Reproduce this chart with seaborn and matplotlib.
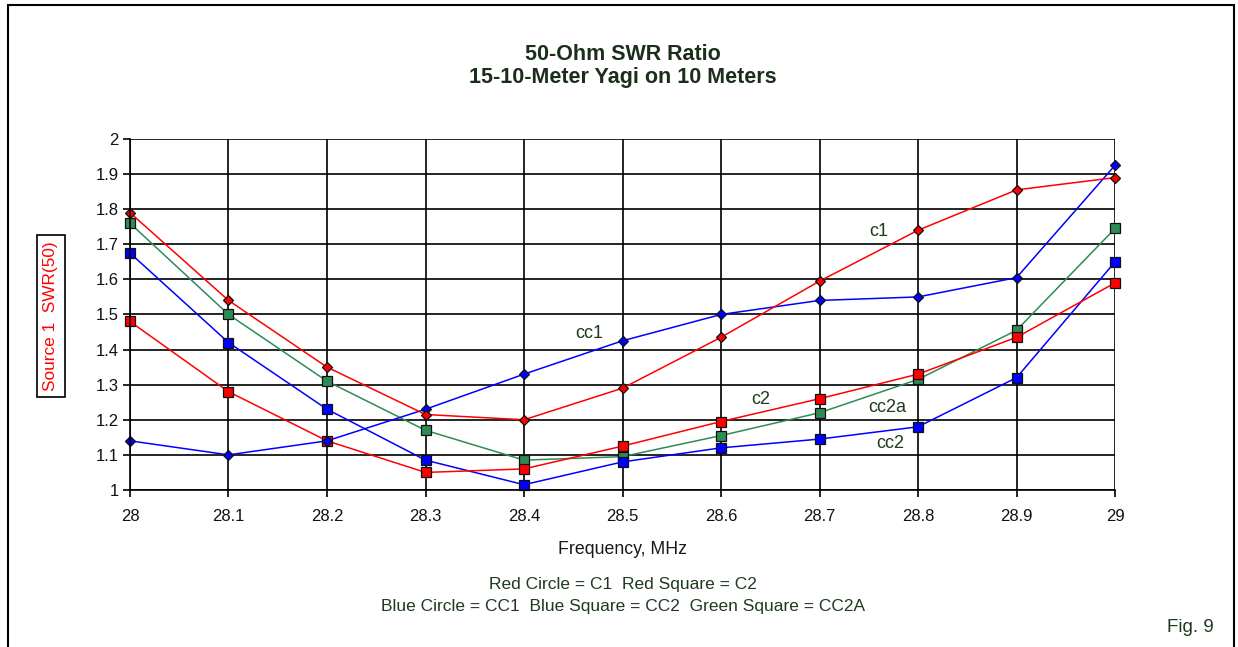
import matplotlib
matplotlib.use('Agg')
import matplotlib.pyplot as plt
import seaborn as sns
import pandas as pd
from matplotlib.patches import Rectangle

# data
freq = [28.0, 28.1, 28.2, 28.3, 28.4, 28.5, 28.6, 28.7, 28.8, 28.9, 29.0]
c1 = [1.79, 1.54, 1.35, 1.215, 1.20, 1.29, 1.435, 1.595, 1.74, 1.855, 1.89]
cc1 = [1.14, 1.10, 1.14, 1.23, 1.33, 1.425, 1.50, 1.54, 1.55, 1.605, 1.925]
c2 = [1.48, 1.28, 1.14, 1.05, 1.06, 1.125, 1.195, 1.26, 1.33, 1.435, 1.59]
cc2 = [1.675, 1.42, 1.23, 1.085, 1.015, 1.08, 1.12, 1.145, 1.18, 1.32, 1.65]
cc2a = [1.76, 1.50, 1.31, 1.17, 1.085, 1.095, 1.155, 1.22, 1.315, 1.455, 1.745]

x_ticks = [28, 28.1, 28.2, 28.3, 28.4, 28.5, 28.6, 28.7, 28.8, 28.9, 29]
y_ticks = [1, 1.1, 1.2, 1.3, 1.4, 1.5, 1.6, 1.7, 1.8, 1.9, 2]

sns.set_style('white')
plt.rcParams['font.family'] = ['Liberation Sans', 'DejaVu Sans']

fig = plt.figure(figsize=(12.38, 6.47), dpi=100)
ax = fig.add_axes([0.105, 0.2427, 0.7957, 0.5425])

txt_col = '#1f3a1f'
green = '#2e8b57'

# series: (values, colour, marker, marker size)
series = [
    (cc2a, green, 's', 7),
    (cc2, '#0000ff', 's', 7),
    (c2, '#ff0000', 's', 7),
    (cc1, '#0000ff', 'D', 5.5),
    (c1, '#ff0000', 'D', 5.5),
]
for vals, col, mk, ms in series:
    df = pd.DataFrame({'freq': freq, 'swr': vals})
    sns.lineplot(data=df, x='freq', y='swr', ax=ax, color=col, lw=1.1,
                 marker=mk, markersize=ms, markerfacecolor=col,
                 markeredgecolor='#101010', markeredgewidth=0.9, clip_on=False)

ax.set_xlim(28, 29)
ax.set_ylim(1, 2)
ax.set_xticks(x_ticks)
ax.set_xticklabels([f'{t:g}' for t in x_ticks])
ax.set_yticks(y_ticks)
ax.set_yticklabels([f'{t:g}' for t in y_ticks])
ax.grid(True, color='black', lw=1.2)
ax.set_axisbelow(True)
for s in ax.spines.values():
    s.set_visible(False)
for side in ['left', 'bottom']:
    ax.spines[side].set_visible(True)
    ax.spines[side].set_color('black')
    ax.spines[side].set_linewidth(1.2)
ax.tick_params(axis='both', direction='out', length=5, width=1.2, color='black',
               labelsize=12, labelcolor='#111111', left=True, bottom=True)
ax.tick_params(axis='x', pad=9)
ax.tick_params(axis='y', pad=3)
ax.set_xlabel('')
ax.set_ylabel('')

# curve labels
lab = dict(fontsize=13, color=txt_col, ha='center', va='center')
ax.text(28.76, 1.735, 'c1', **lab)
ax.text(28.466, 1.447, 'cc1', **lab)
ax.text(28.64, 1.258, 'c2', **lab)
ax.text(28.769, 1.236, 'cc2a', **lab)
ax.text(28.772, 1.131, 'cc2', **lab)

# title and other text
fig.text(0.503, 1 - 55 / 647, '50-Ohm SWR Ratio', ha='center', va='center',
         fontsize=15.5, fontweight='bold', color='#1a2e1a')
fig.text(0.503, 1 - 78 / 647, '15-10-Meter Yagi on 10 Meters', ha='center', va='center',
         fontsize=15.5, fontweight='bold', color='#1a2e1a')
fig.text(0.503, 1 - 550 / 647, 'Frequency, MHz', ha='center', va='center',
         fontsize=12.8, color='#1a1a1a')
fig.text(0.503, 1 - 585 / 647, 'Red Circle = C1  Red Square = C2', ha='center', va='center',
         fontsize=12.5, color=txt_col)
fig.text(0.503, 1 - 606 / 647, 'Blue Circle = CC1  Blue Square = CC2  Green Square = CC2A',
         ha='center', va='center', fontsize=12.5, color=txt_col)
fig.text(1190 / 1238, 1 - 627 / 647, 'Fig. 9', ha='center', va='center',
         fontsize=13.5, color=txt_col)

# boxed y label
fig.text(51 / 1238, 1 - 316 / 647, 'Source 1  SWR(50)', rotation=90, ha='center', va='center',
         fontsize=12.4, color='#ff0000',
         bbox=dict(boxstyle='square,pad=0.35', fc='white', ec='black', lw=1.2))

# outer frame
fig.patches.append(Rectangle((8 / 1238, -0.05), (1234 - 8) / 1238, 1.05 - 5 / 647,
                             transform=fig.transFigure, fill=False, ec='black', lw=1.5))

fig.savefig('out.png', dpi=100)
